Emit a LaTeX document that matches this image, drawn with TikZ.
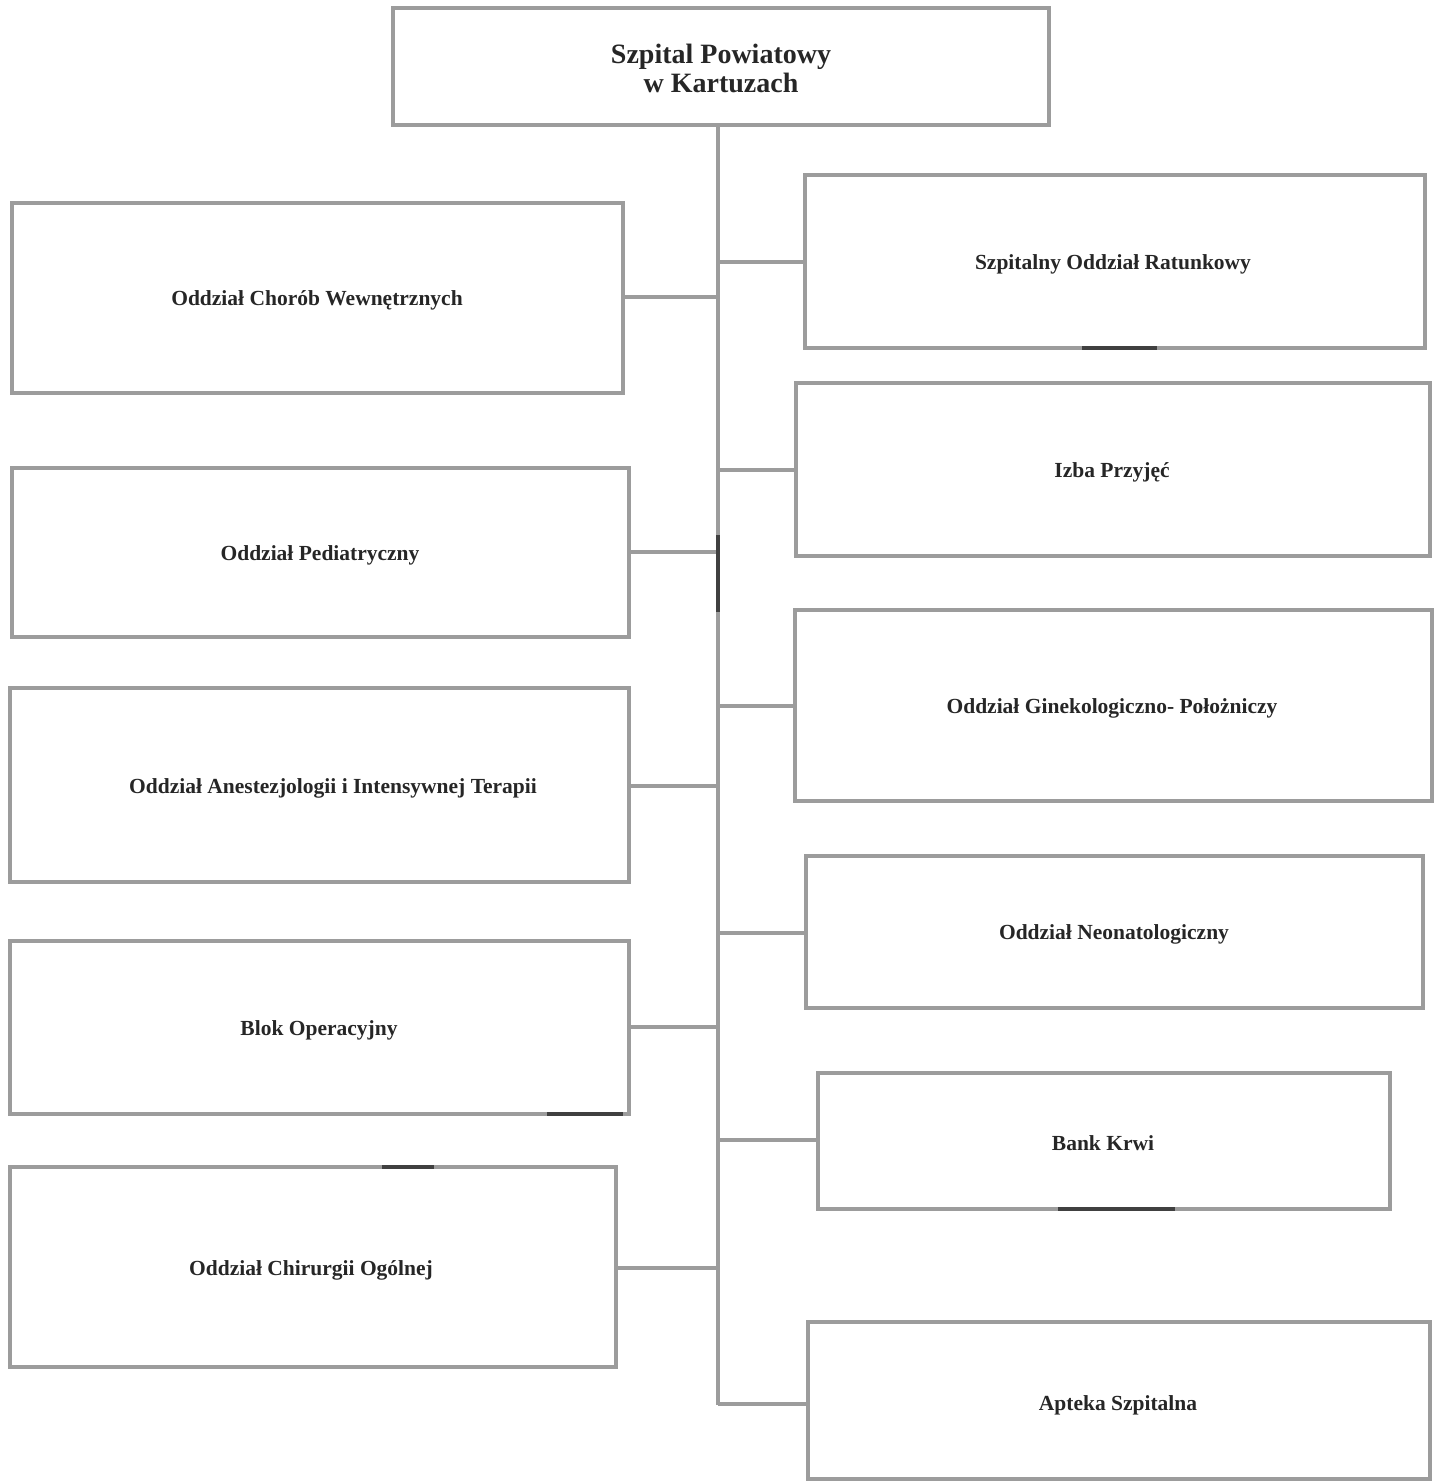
\documentclass[tikz,border=0pt]{standalone}
\usepackage{fontspec}
\setmainfont{Liberation Serif}
\begin{document}
\begin{tikzpicture}[x=1pt,y=-1pt,
  box/.style={draw=boxgray,line width=4pt},
  conn/.style={draw=boxgray,line width=4pt},
  lbl/.style={font=\bfseries\fontsize{21.5}{25}\selectfont,text=black!85,inner sep=0pt},
  scan/.style={draw=black!75,line width=4pt}]
\definecolor{boxgray}{HTML}{9C9C9C}
\useasboundingbox (0,0) rectangle (1438,1481);
% boxes
\draw[box] (393,8) rectangle (1049,125);
\node[lbl,font=\bfseries\fontsize{28}{29}\selectfont,align=center] (top) at (721,68) {Szpital Powiatowy\\w Kartuzach};
\coordinate (tb) at (718,125);
\coordinate (te) at (718,1405);

\draw[box] (12,203) rectangle (623,393);
\node[lbl] (l1) at (317,300) {Oddział Chorób Wewnętrznych};
\draw[box] (12,468) rectangle (629,637);
\node[lbl] (l2) at (320,555) {Oddział Pediatryczny};
\draw[box] (10,688) rectangle (629,882);
\node[lbl] (l3) at (333,788) {Oddział Anestezjologii i Intensywnej Terapii};
\draw[box] (10,941) rectangle (629,1114);
\node[lbl] (l4) at (319,1030) {Blok Operacyjny};
\draw[box] (10,1167) rectangle (616,1367);
\node[lbl] (l5) at (311,1270) {Oddział Chirurgii Ogólnej};

\draw[box] (805,175) rectangle (1425,348);
\node[lbl] (r1) at (1113,264) {Szpitalny Oddział Ratunkowy};
\draw[box] (796,383) rectangle (1430,556);
\node[lbl] (r2) at (1112,472) {Izba Przyjęć};
\draw[box] (795,610) rectangle (1432,801);
\node[lbl] (r3) at (1112,708) {Oddział Ginekologiczno- Położniczy};
\draw[box] (806,856) rectangle (1423,1008);
\node[lbl] (r4) at (1114,934) {Oddział Neonatologiczny};
\draw[box] (818,1073) rectangle (1390,1209);
\node[lbl] (r5) at (1103,1143) {Bank Krwi};
\draw[box] (808,1322) rectangle (1430,1479);
\node[lbl] (r6) at (1118,1405) {Apteka Szpitalna};

% trunk
\draw[conn] (tb) -- (te);
\coordinate (j1) at (718,297); \coordinate (e1) at (623,297);
\coordinate (j2) at (718,552); \coordinate (e2) at (629,552);
\coordinate (j3) at (718,786); \coordinate (e3) at (629,786);
\coordinate (j4) at (718,1027); \coordinate (e4) at (629,1027);
\coordinate (j5) at (718,1268); \coordinate (e5) at (616,1268);
\draw[conn] (e1) -- (j1); \draw[conn] (e2) -- (j2); \draw[conn] (e3) -- (j3);
\draw[conn] (e4) -- (j4); \draw[conn] (e5) -- (j5);
\coordinate (k1) at (718,262); \coordinate (f1) at (805,262);
\coordinate (k2) at (718,470); \coordinate (f2) at (796,470);
\coordinate (k3) at (718,706); \coordinate (f3) at (795,706);
\coordinate (k4) at (718,933); \coordinate (f4) at (806,933);
\coordinate (k5) at (718,1140); \coordinate (f5) at (818,1140);
\coordinate (k6) at (718,1404); \coordinate (f6) at (808,1404);
\draw[conn] (k1) -- (f1); \draw[conn] (k2) -- (f2); \draw[conn] (k3) -- (f3);
\draw[conn] (k4) -- (f4); \draw[conn] (k5) -- (f5); \draw[conn] (k6) -- (f6);

% darker scan marks
\draw[scan] (718,535) -- (718,612);
\draw[scan] (1082,348) -- (1157,348);
\draw[scan] (547,1114) -- (623,1114);
\draw[scan] (382,1167) -- (434,1167);
\draw[scan] (1058,1209) -- (1175,1209);
\end{tikzpicture}
\end{document}
